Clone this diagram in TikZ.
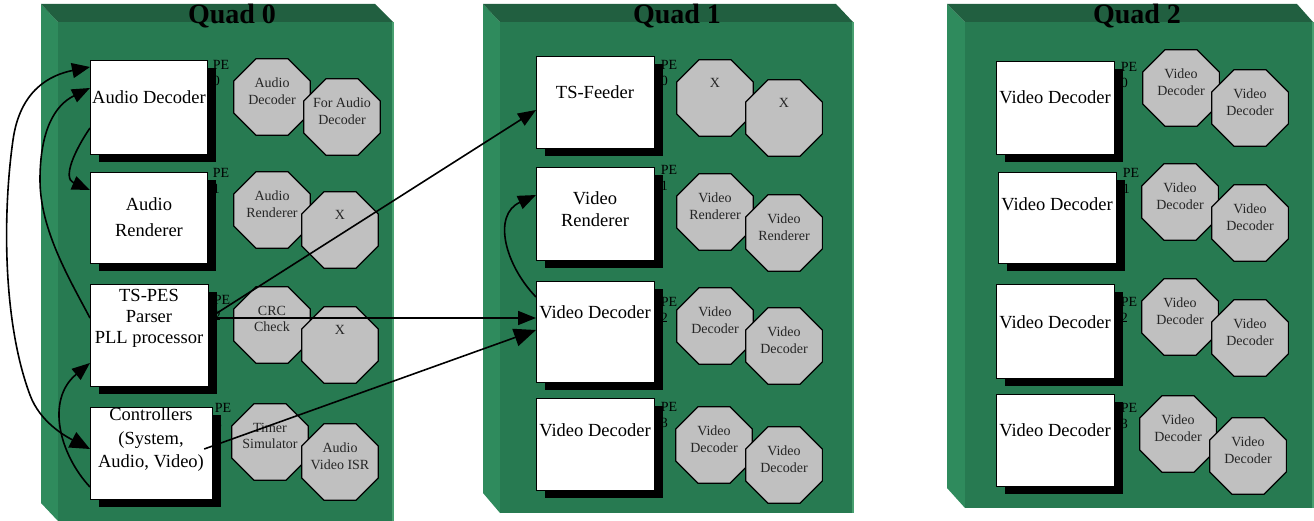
\documentclass[tikz,border=0pt]{standalone}
\usepackage{fontspec}
\setmainfont{Liberation Serif}
\usetikzlibrary{arrows.meta,shapes.geometric,shadows}

\definecolor{quadfront}{RGB}{39,122,81}
\definecolor{quadside}{RGB}{47,139,93}
\definecolor{quadtop}{RGB}{33,95,64}
\definecolor{quadedge}{RGB}{72,160,112}
\definecolor{octgray}{RGB}{192,192,192}

\tikzset{
  pebox/.style={draw=black, line width=1.2pt, fill=white, inner sep=0pt, anchor=north west,
    drop shadow={shadow xshift=8pt, shadow yshift=-7pt, fill=black, opacity=1}},
  petext/.style={align=center, inner sep=0pt, font=\fontsize{18.5}{22}\selectfont},
  pelabel/.style={align=left, anchor=north west, inner sep=0pt, font=\fontsize{14}{16}\selectfont},
  octo/.style={regular polygon, regular polygon sides=8, minimum size=83pt, inner sep=0pt,
    draw=black, line width=1.2pt, fill=octgray},
  octtext/.style={align=center, anchor=north, inner sep=0pt, text=black!85, font=\fontsize{14}{16.5}\selectfont},
  quadtitle/.style={inner sep=0pt, font=\bfseries\fontsize{28}{28}\selectfont},
}

\begin{document}
\begin{tikzpicture}[x=1pt,y=-1pt,>={Triangle[length=18pt,width=14pt]},line width=1.6pt]
\useasboundingbox (0,0) rectangle (1314,521);

% the three quads: side face, top face, front face
\foreach \xl/\xf/\xr/\xt/\yb/\yl in {41/58/393/375/521/503, 483/500/853/836/513/493, 947/965/1313/1297/508/488}
{
    \fill[quadside] (\xl,4) -- (\xf,22) -- (\xf,\yb) -- (\xl,\yl) -- cycle;
    \fill[quadtop] (\xl,4) -- (\xt,4) -- (\xr,22) -- (\xf,22) -- cycle;
    \fill[quadfront] (\xf,22) rectangle (\xr,\yb);
    \draw[quadedge,line width=1.5pt] (\xr,22) -- (\xr,\yb);
}
\node[quadtitle] (quad0) at (232,16) {Quad 0};
\node[quadtitle] (quad1) at (677,16) {Quad 1};
\node[quadtitle] (quad2) at (1137,16) {Quad 2};

% PE numbers first, so the box shadows cover them a bit
\foreach \q/\x/\y/\n in {0/212/60/0, 0/212/168/1, 0/213/295/2, 0/214/403/3,
                         1/660/60/0, 1/660/165/1, 1/660/297/2, 1/660/402/3,
                         2/1120/62/0, 2/1122/168/1, 2/1120/297/2, 2/1120/403/3}
{
    \node[pelabel] (pe\q\n) at (\x,\y) {PE\\\n};
}

% Quad 0
\node[pebox, minimum width=117, minimum height=94] (adec) at (90,60) {};
\node[pebox, minimum width=117, minimum height=91] (arend) at (90,172) {};
\node[pebox, minimum width=118, minimum height=102] (tspes) at (90,284) {};
\node[pebox, minimum width=122, minimum height=92] (ctrl) at (90,407) {};
\node[petext] (adec-t) at (149,97) {Audio Decoder};
\node[petext] (arend-t) at (149,217) {Audio\\[4pt]Renderer};
\node[petext] (tspes-t) at (149,318) {TS-PES\\[-1pt]Parser\\[-1pt]PLL processor};
\node[petext] (ctrl-t) at (151,440) {Controllers\\[1.5pt](System,\\[1.5pt]Audio, Video)};

% Quad 1
\node[pebox, minimum width=118, minimum height=92] (tsfeed) at (536,56) {};
\node[pebox, minimum width=118, minimum height=93] (vrend) at (536,167) {};
\node[pebox, minimum width=118, minimum height=101] (vdecA) at (536,281) {};
\node[pebox, minimum width=118, minimum height=92] (vdecB) at (536,398) {};
\node[petext] (tsfeed-t) at (595,92) {TS-Feeder};
\node[petext] (vrend-t) at (595,209) {Video\\Renderer};
\node[petext] (vdecA-t) at (595,312) {Video Decoder};
\node[petext] (vdecB-t) at (595,430) {Video Decoder};

% Quad 2
\node[pebox, minimum width=118, minimum height=93] (vdec20) at (996,61) {};
\node[pebox, minimum width=118, minimum height=91] (vdec21) at (998,172) {};
\node[pebox, minimum width=118, minimum height=94] (vdec22) at (996,284) {};
\node[pebox, minimum width=118, minimum height=92] (vdec23) at (996,394) {};
\foreach \n/\x/\y in {0/1055/97, 1/1057/204, 2/1055/322, 3/1055/430}
{
    \node[petext] (vdec2\n-t) at (\x,\y) {Video Decoder};
}

% task octagons, two per PE
\foreach \n/\cx/\cy/\txt in {
    q0a/272/97/{Audio\\Decoder}, q0b/342/117/{For Audio\\Decoder},
    q0c/272/210/{Audio\\Renderer}, q0d/340/230/X,
    q0e/272/325/{CRC\\Check}, q0f/340/345/X,
    q0g/270/442/{Timer\\Simulator}, q0h/340/462/{Audio\\Video ISR},
    q1a/715/98/X, q1b/784/118/X,
    q1c/715/212/{Video\\Renderer}, q1d/784/233/{Video\\Renderer},
    q1e/715/326/{Video\\Decoder}, q1f/784/346/{Video\\Decoder},
    q1g/714/445/{Video\\Decoder}, q1h/784/465/{Video\\Decoder},
    q2a/1181/88/{Video\\Decoder}, q2b/1250/108/{Video\\Decoder},
    q2c/1180/202/{Video\\Decoder}, q2d/1250/223/{Video\\Decoder},
    q2e/1180/317/{Video\\Decoder}, q2f/1250/338/{Video\\Decoder},
    q2g/1178/434/{Video\\Decoder}, q2h/1248/456/{Video\\Decoder}}
{
    \node[octo] (\n) at (\cx,\cy) {};
    \node[octtext] (\n-t) at ([yshift=20pt]\n.center) {\txt};
}

% data flow
\draw[{Triangle[length=18pt,width=15pt]}-{Triangle[length=20pt,width=17pt]}]
    ([yshift=-7pt]adec.north west) .. controls (50,75) and (20,90) .. (13,140)
    .. controls (3,210) and (2,320) .. (30,395)
    .. controls (40,422) and (65,436) .. ([yshift=-42pt]ctrl.north west);
\draw[->] ([yshift=-34pt]tspes.north west) .. controls (70,280) and (40,230) .. (40,180)
    .. controls (40,130) and (55,105) .. ([yshift=-28pt]adec.north west);
\draw[->] ([yshift=-68pt]adec.north west) .. controls (75,150) and (62,178) .. ([yshift=-18pt]arend.north west);
\draw[->] ([yshift=-80pt]ctrl.north west) .. controls (60,455) and (45,400) .. ([yshift=-79pt]tspes.north west);
\draw[->] ([yshift=-34pt]tspes.north east) -- ([yshift=-54pt]tsfeed.north west);
\draw[->] ([yshift=-34pt]tspes.north east) -- ([yshift=-37pt]vdecA.north west);
\draw[-{Triangle[length=22pt,width=18pt]}] ([xshift=-9pt,yshift=-42pt]ctrl.north east) -- ([yshift=-49pt]vdecA.north west);
\draw[->] ([yshift=-16pt]vdecA.north west) .. controls (505,265) and (492,215) .. ([yshift=-28pt]vrend.north west);
\end{tikzpicture}
\end{document}
